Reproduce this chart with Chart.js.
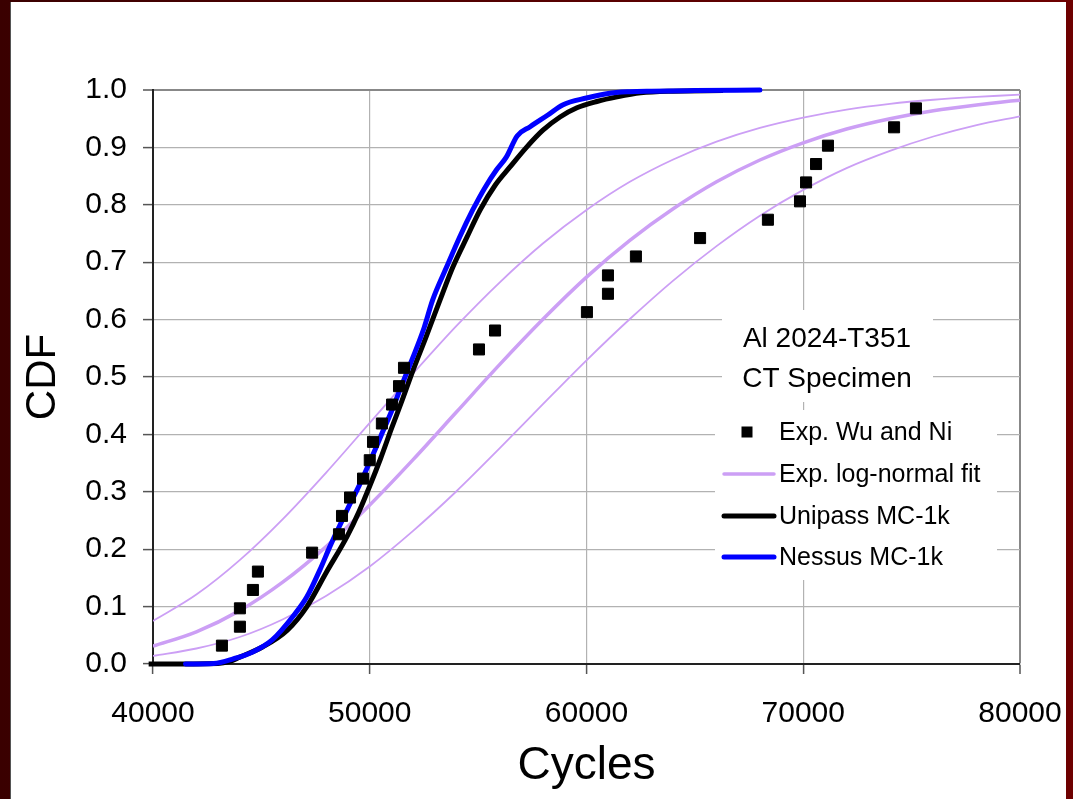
<!DOCTYPE html>
<html><head><meta charset="utf-8">
<script src="https://cdn.jsdelivr.net/npm/chart.js@4.4.1/dist/chart.umd.min.js"></script>
<style>
html,body{margin:0;padding:0;width:1073px;height:799px;overflow:hidden;background:linear-gradient(to right,#3a0000,#560000 50%,#6e0000);}
#wrap{position:absolute;left:11px;top:2px;width:1055px;height:797px;background:#fff;box-shadow:-1px 0 0 #555;}
canvas{display:block;}
</style></head><body>
<div id="wrap"><canvas id="c" width="1055" height="797"></canvas></div>
<script>
// ---- data ----
const xTickLabels = ['40000','50000','60000','70000','80000'];
const yTickLabels = ['0.0','0.1','0.2','0.3','0.4','0.5','0.6','0.7','0.8','0.9','1.0'];

const expCycles = [43180,44010,44010,44610,44840,47340,48580,48720,49090,49690,50000,50150,50560,51030,51350,51580,55040,55780,60020,60990,60990,62280,65240,68370,69850,70130,70590,71140,74190,75200];
const expCdf    = [0.032,0.065,0.097,0.129,0.161,0.194,0.226,0.258,0.290,0.323,0.355,0.387,0.419,0.452,0.484,0.516,0.548,0.581,0.613,0.645,0.677,0.710,0.742,0.774,0.806,0.839,0.871,0.903,0.935,0.968];

const fitCycles = [40000,42000,44000,46000,48000,50000,52000,54000,56000,58000,60000,62000,64000,66000,68000,70000,72000,74000,76000,78000,80000,80400];
const fitMid    = [0.031,0.056,0.093,0.143,0.205,0.277,0.356,0.439,0.522,0.601,0.674,0.738,0.793,0.840,0.878,0.908,0.932,0.950,0.964,0.974,0.982,0.983];
const fitUpper  = [0.075,0.121,0.181,0.253,0.334,0.420,0.506,0.589,0.665,0.733,0.791,0.840,0.879,0.910,0.934,0.952,0.966,0.976,0.983,0.988,0.992,0.993];
const fitLower  = [0.014,0.027,0.047,0.078,0.119,0.170,0.232,0.301,0.376,0.453,0.529,0.601,0.668,0.728,0.781,0.826,0.864,0.894,0.919,0.939,0.954,0.957];

const unipassCycles = [39800,43000,43500,44000,45070,46200,47100,48000,48950,49500,50000,50500,51000,51500,52000,52600,53240,53840,54490,55090,55800,56470,57250,57990,58780,59560,60480,61410,62500,64000,66300];
const unipassCdf    = [0,0.001,0.004,0.012,0.030,0.059,0.100,0.160,0.222,0.265,0.310,0.358,0.410,0.460,0.512,0.570,0.634,0.692,0.744,0.791,0.835,0.866,0.901,0.930,0.953,0.969,0.980,0.988,0.995,0.998,0.999];

const nessusCycles = [41500,42800,43700,44600,45500,46500,47100,47700,48200,48600,49000,49500,50000,50500,51000,51500,52000,52500,52900,53550,54150,54750,55300,55850,56300,56800,57400,58200,58900,60000,61000,62000,63000,65000,68000];
const nessusCdf    = [0,0.001,0.009,0.021,0.042,0.085,0.117,0.164,0.208,0.240,0.272,0.310,0.352,0.396,0.440,0.488,0.535,0.585,0.634,0.692,0.744,0.791,0.829,0.861,0.883,0.920,0.936,0.956,0.974,0.986,0.994,0.997,0.998,0.999,1.000];

const titleLines = ['Al 2024-T351','CT Specimen'];
const legendLabels = ['Exp. Wu and Ni','Exp. log-normal fit','Unipass MC-1k','Nessus MC-1k'];

const LAV = '#cc9ff5';
const FONT = "'Liberation Sans', Arial, sans-serif";
Chart.defaults.font.family = FONT;
Chart.defaults.color = '#000';

function pts(xs, ys){ return xs.map((x,i)=>({x:x, y:ys[i]})); }

const overlay = {
  id:'overlay',
  beforeDatasetsDraw(chart){
    const ctx = chart.ctx;
    ctx.save();
    ctx.fillStyle = '#fff';
    ctx.fillRect(711,308,211,92);
    ctx.fillRect(704,408,282,170);
    ctx.restore();
  },
  afterDatasetsDraw(chart){
    const ctx = chart.ctx;
    ctx.save();
    ctx.fillStyle = '#000';
    ctx.font = '28px ' + FONT;
    ctx.textAlign = 'center';
    ctx.textBaseline = 'alphabetic';
    titleLines.forEach((t,i)=>ctx.fillText(t, 816, 345 + 40*i));
    const ys = [430, 472, 514, 555];
    ctx.fillRect(736-5.5, ys[0]-5.5, 11, 11);
    const lines = [[LAV,3.5],['#000',5],['#0000ff',5]];
    lines.forEach((l,i)=>{
      ctx.strokeStyle = l[0]; ctx.lineWidth = l[1]; ctx.lineCap='round';
      ctx.beginPath(); ctx.moveTo(713, ys[i+1]); ctx.lineTo(763, ys[i+1]); ctx.stroke();
    });
    ctx.font = '25px ' + FONT;
    ctx.textAlign = 'left';
    ctx.textBaseline = 'middle';
    legendLabels.forEach((t,i)=>ctx.fillText(t, 768, ys[i]+1));
    ctx.restore();
  }
};

new Chart(document.getElementById('c'), {
  type: 'scatter',
  data: {
    datasets: [
      { label: legendLabels[0], data: pts(expCycles, expCdf), showLine:false,
        pointStyle:'rect', pointRadius:7.8, backgroundColor:'#000', borderColor:'#000', borderWidth:1 },
      { label: legendLabels[3], data: pts(nessusCycles, nessusCdf), showLine:true,
        borderColor:'#0000ff', borderWidth:5, pointRadius:0, cubicInterpolationMode:'monotone', borderCapStyle:'round', clip:{left:6,top:4,right:0,bottom:4} },
      { label: legendLabels[2], data: pts(unipassCycles, unipassCdf), showLine:true,
        borderColor:'#000', borderWidth:5, pointRadius:0, cubicInterpolationMode:'monotone', clip:{left:6,top:4,right:0,bottom:4} },
      { label: legendLabels[1], data: pts(fitCycles, fitMid), showLine:true,
        borderColor:LAV, borderWidth:3.5, pointRadius:0, cubicInterpolationMode:'monotone', clip:{left:0,top:4,right:12,bottom:0} },
      { label: 'upper', data: pts(fitCycles, fitUpper), showLine:true,
        borderColor:LAV, borderWidth:1.8, pointRadius:0, cubicInterpolationMode:'monotone', clip:{left:0,top:4,right:12,bottom:0} },
      { label: 'lower', data: pts(fitCycles, fitLower), showLine:true,
        borderColor:LAV, borderWidth:1.8, pointRadius:0, cubicInterpolationMode:'monotone', clip:{left:0,top:4,right:12,bottom:0} }
    ]
  },
  options: {
    responsive:false, animation:false, devicePixelRatio:1,
    layout:{ padding:{ left:0, top:88, right:46, bottom:0 } },
    plugins:{ legend:{display:false}, tooltip:{enabled:false} },
    scales:{
      x:{
        type:'linear', min:40000, max:80000,
        ticks:{ stepSize:10000, font:{size:30}, padding:22, color:'#000',
          callback:(v)=>{ const i = Math.round((v-40000)/10000); return xTickLabels[i]; } },
        grid:{ color:(c)=> (c.tick && c.tick.value===80000) ? '#888' : '#b2b2b2',
               lineWidth:(c)=> (c.tick && c.tick.value===80000) ? 2 : 1.2,
               tickColor:'#555', tickLength:10, tickWidth:1.5 },
        border:{ color:'#222', width:2 },
        title:{ display:true, text:'Cycles', font:{size:46}, color:'#000', padding:{top:0,bottom:5} },
        afterFit:(s)=>{ s.height = 135; s.paddingRight = 0; s.paddingLeft = 0; }
      },
      y:{
        type:'linear', min:0, max:1,
        ticks:{ stepSize:0.1, font:{size:30}, padding:16, color:'#000',
          callback:(v)=> yTickLabels[Math.round(v*10)] },
        grid:{ color:(c)=> (c.tick && Math.abs(c.tick.value-1)<1e-9) ? '#888' : '#b2b2b2',
               lineWidth:(c)=> (c.tick && Math.abs(c.tick.value-1)<1e-9) ? 2 : 1.2,
               tickColor:'#555', tickLength:10, tickWidth:1.5 },
        border:{ color:'#222', width:2 },
        title:{ display:true, text:'CDF', font:{size:42}, color:'#000', padding:{top:7,bottom:0} },
        afterFit:(s)=>{ s.width = 142; }
      }
    }
  },
  plugins:[overlay]
});
</script></body></html>
